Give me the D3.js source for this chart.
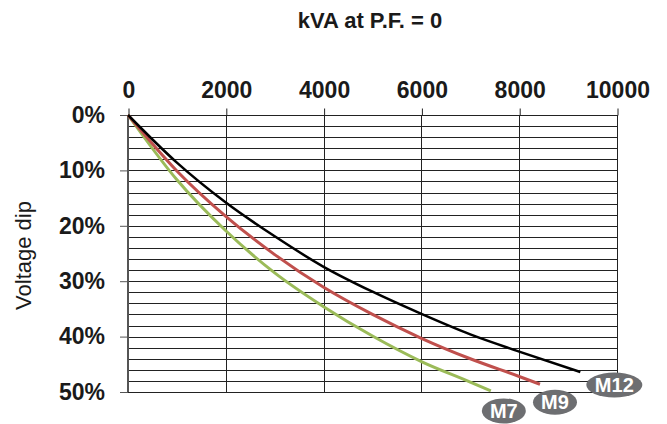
<!DOCTYPE html>
<html>
<head>
<meta charset="utf-8">
<script src="https://cdn.jsdelivr.net/npm/d3@7"></script>
<style>
  body { margin: 0; background: #fff; }
  text { font-family: "Liberation Sans", Arial, sans-serif; }
</style>
</head>
<body>
<div id="chart"></div>
<script>
// tick values
const kvaTicks = [0, 2000, 4000, 6000, 8000, 10000];
const dipTicks = [0, 10, 20, 30, 40, 50];
const dipGrid = d3.range(0, 51, 2);

// curves (kVA, voltage dip %)
const kvaM12 = [0, 1000, 2000, 3000, 4000, 5000, 6000, 7000, 8000, 9250];
const dipM12 = [0, 8.6, 15.8, 21.9, 27.4, 31.9, 35.9, 39.6, 42.7, 46.4];
const kvaM9 = [0, 1000, 2000, 3000, 4000, 5000, 6000, 7000, 8000, 8425];
const dipM9 = [0, 10.1, 18.3, 25.2, 31.1, 36.0, 40.3, 44.0, 47.2, 48.6];
const kvaM7 = [0, 1000, 2000, 3000, 4000, 5000, 6000, 7000, 7420];
const dipM7 = [0, 11.7, 20.9, 28.5, 34.6, 39.9, 44.5, 48.2, 49.8];

const width = 667, height = 424;
const margin = { top: 115, right: 50, bottom: 32, left: 128 };

const svg = d3.select("#chart")
  .append("svg")
  .attr("width", width)
  .attr("height", height);

const x = d3.scaleLinear()
  .domain([0, 10000])
  .range([margin.left, width - margin.right]);

const y = d3.scaleLinear()
  .domain([0, 50])
  .range([margin.top, height - margin.bottom]);

// title
svg.append("text")
  .attr("x", 370)
  .attr("y", 28)
  .attr("text-anchor", "middle")
  .attr("font-size", 22)
  .attr("font-weight", "bold")
  .attr("fill", "#1a1a1a")
  .text("kVA at P.F. = 0");

// horizontal grid
svg.append("g")
  .selectAll("line")
  .data(dipGrid)
  .join("line")
  .attr("x1", x(0))
  .attr("x2", x(10000))
  .attr("y1", d => Math.round(y(d)) + 0.5)
  .attr("y2", d => Math.round(y(d)) + 0.5)
  .attr("stroke", "#222")
  .attr("stroke-width", 1);

// vertical grid
svg.append("g")
  .selectAll("line")
  .data(kvaTicks.slice(1))
  .join("line")
  .attr("x1", d => Math.round(x(d)) + 0.5)
  .attr("x2", d => Math.round(x(d)) + 0.5)
  .attr("y1", y(0))
  .attr("y2", y(50))
  .attr("stroke", "#222")
  .attr("stroke-width", 1);

// top axis
const xAxis = svg.append("g")
  .attr("transform", `translate(0.5,${Math.round(y(0)) + 0.5})`)
  .call(d3.axisTop(x).tickValues(kvaTicks).tickSize(7).tickPadding(11).tickFormat(d => d));
xAxis.select(".domain").remove();
xAxis.selectAll("line").attr("stroke", "#222");
xAxis.selectAll("text")
  .attr("font-size", 23)
  .attr("font-weight", "bold")
  .attr("font-family", "Liberation Sans, Arial, sans-serif")
  .attr("fill", "#1a1a1a");

// left axis
const yAxis = svg.append("g")
  .attr("transform", `translate(${x(0)},0)`)
  .call(d3.axisLeft(y).tickValues(dipTicks).tickSize(8).tickPadding(15).tickFormat(d => d + "%"));
yAxis.select(".domain").remove();
yAxis.selectAll("line").attr("stroke", "#555").attr("stroke-width", 1);
yAxis.selectAll("text")
  .attr("font-size", 23)
  .attr("font-weight", "bold")
  .attr("font-family", "Liberation Sans, Arial, sans-serif")
  .attr("fill", "#1a1a1a");

svg.append("line")
  .attr("x1", x(0)).attr("x2", x(0))
  .attr("y1", y(0)).attr("y2", y(50))
  .attr("stroke", "#555")
  .attr("stroke-width", 2);

// y label
svg.append("text")
  .attr("transform", `translate(31,${(y(0) + y(50)) / 2 + 2}) rotate(-90)`)
  .attr("text-anchor", "middle")
  .attr("font-size", 22)
  .attr("fill", "#1a1a1a")
  .text("Voltage dip");

// curves
const curves = [
  { name: "M7", kva: kvaM7, dip: dipM7, color: "#9bbb59", w: 3, dx: 13, dy: 20, rx: 22 },
  { name: "M9", kva: kvaM9, dip: dipM9, color: "#c0504d", w: 3, dx: 15, dy: 18, rx: 22 },
  { name: "M12", kva: kvaM12, dip: dipM12, color: "#000000", w: 2.5, dx: 34, dy: 13, rx: 28 }
];

const line = d3.line()
  .x(d => x(d[0]))
  .y(d => y(d[1]))
  .curve(d3.curveMonotoneX);

for (const c of curves) {
  const pts = c.kva.map((k, i) => [k, c.dip[i]]);
  svg.append("path")
    .datum(pts)
    .attr("fill", "none")
    .attr("stroke", c.color)
    .attr("stroke-width", c.w)
    .attr("d", line);
}

// series badges
for (const c of curves) {
  const last = c.kva.length - 1;
  const cx = x(c.kva[last]) + c.dx;
  const cy = y(c.dip[last]) + c.dy;
  svg.append("ellipse")
    .attr("cx", cx)
    .attr("cy", cy)
    .attr("rx", c.rx)
    .attr("ry", 12.5)
    .attr("fill", "#6d6e71");
  svg.append("text")
    .attr("x", cx)
    .attr("y", cy)
    .attr("dy", "0.36em")
    .attr("text-anchor", "middle")
    .attr("font-size", 20)
    .attr("font-weight", "bold")
    .attr("fill", "#fff")
    .text(c.name);
}
</script>
</body>
</html>
